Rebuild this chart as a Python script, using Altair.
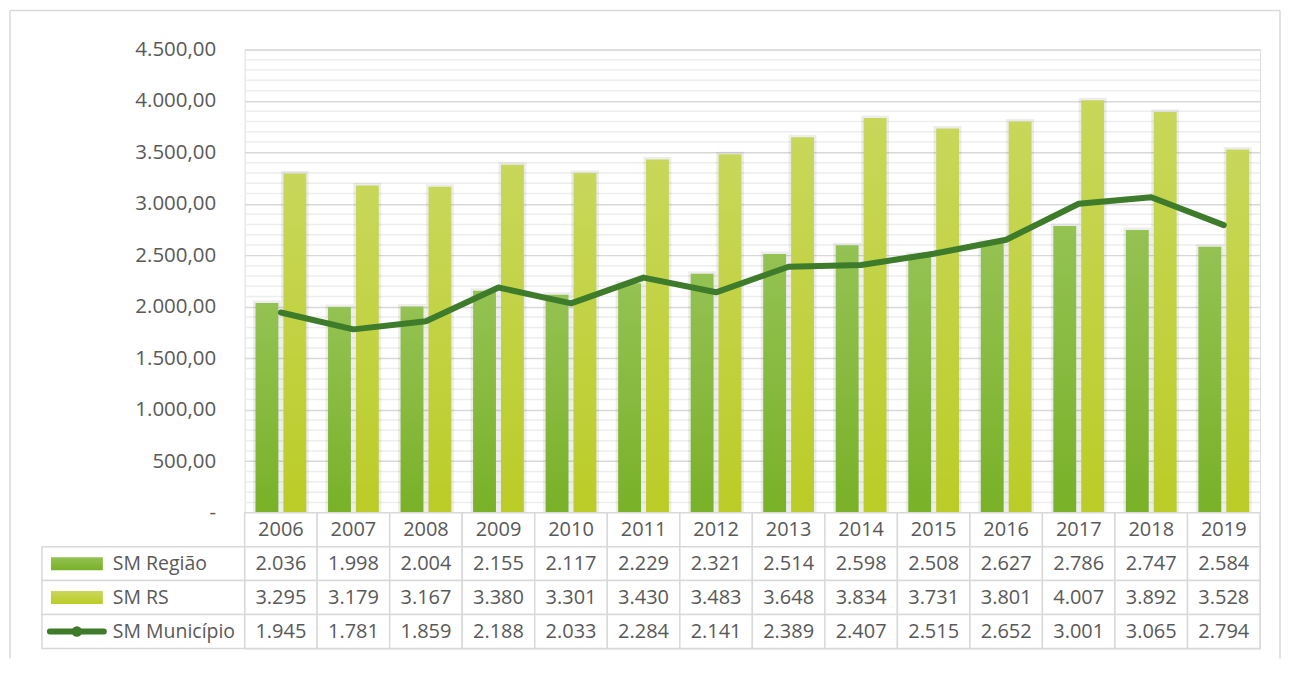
import altair as alt
import pandas as pd

years = ["2006", "2007", "2008", "2009", "2010", "2011", "2012",
         "2013", "2014", "2015", "2016", "2017", "2018", "2019"]
sm_regiao = [2036, 1998, 2004, 2155, 2117, 2229, 2321, 2514, 2598, 2508, 2627, 2786, 2747, 2584]
sm_rs = [3295, 3179, 3167, 3380, 3301, 3430, 3483, 3648, 3834, 3731, 3801, 4007, 3892, 3528]
sm_municipio = [1945, 1781, 1859, 2188, 2033, 2284, 2141, 2389, 2407, 2515, 2652, 3001, 3065, 2794]
series_names = ["SM Região", "SM RS", "SM Município"]
major_ticks = [0, 500, 1000, 1500, 2000, 2500, 3000, 3500, 4000, 4500]
minor_ticks = [v for v in range(100, 4500, 100) if v % 500 != 0]

FONT = "Open Sans"
TXT = "#595959"
GRID = "#d9d9d9"

rows = []
for name, vals in zip(series_names, [sm_regiao, sm_rs, sm_municipio]):
    for y, v in zip(years, vals):
        rows.append({"year": y, "series": name, "value": v})
df = pd.DataFrame(rows)

grad_regiao = alt.LinearGradient(
    gradient="linear", x1=0, x2=0, y1=0, y2=1,
    stops=[alt.GradientStop(color="#94c253", offset=0),
           alt.GradientStop(color="#79b128", offset=1)])
grad_rs = alt.LinearGradient(
    gradient="linear", x1=0, x2=0, y1=0, y2=1,
    stops=[alt.GradientStop(color="#c8d75a", offset=0),
           alt.GradientStop(color="#bbcc27", offset=1)])
LINE_COLOR = "#3e7b2b"

W = 1017
x_enc = alt.X("year:O", sort=years,
              scale=alt.Scale(paddingInner=0.3, paddingOuter=0.15), axis=None)
label_expr = ("datum.value == 0 ? '-\u00a0\u00a0' : "
              "replace(replace(replace(format(datum.value, ',.2f'), ',', '#'), '.', ','), '#', '.')")
y_scale = alt.Scale(domain=[0, 4500], nice=False)
y_axis = alt.Axis(values=major_ticks, labelExpr=label_expr, grid=True, gridColor=GRID,
                  gridWidth=1.5, domain=False, ticks=False, labelPadding=29, title=None,
                  labelFontSize=20.5, labelColor=TXT, labelFont=FONT)

base = alt.Chart(df)

minor = alt.Chart(pd.DataFrame({"v": minor_ticks})).mark_rule(
    color="#eeeeee", strokeWidth=1.5).encode(
    y=alt.Y("v:Q", scale=y_scale, axis=y_axis))

xoff = alt.XOffset("series:N", scale=alt.Scale(domain=["SM Região", "SM RS"], paddingInner=0.18))


def shadow(name):
    return base.transform_filter(alt.datum.series == name).mark_bar(
        fill="#000000", fillOpacity=0.0, stroke="#000000", strokeOpacity=0.07, strokeWidth=5).encode(
        x=x_enc, xOffset=xoff, y=alt.Y("value:Q", scale=y_scale))


bars_r = base.transform_filter(alt.datum.series == "SM Região").mark_bar(fill=grad_regiao).encode(
    x=x_enc, xOffset=xoff, y=alt.Y("value:Q", scale=y_scale))
bars_s = base.transform_filter(alt.datum.series == "SM RS").mark_bar(fill=grad_rs).encode(
    x=x_enc, xOffset=xoff, y=alt.Y("value:Q", scale=y_scale))

line = base.transform_filter(alt.datum.series == "SM Município").mark_line(
    color=LINE_COLOR, strokeWidth=6, strokeCap="round", strokeJoin="round").encode(
    x=x_enc, y=alt.Y("value:Q", scale=y_scale))

# outer frame of the chart area (left, top, right sides)
one = pd.DataFrame({"k": [0]})
frame_left = alt.Chart(one).mark_rule(color=GRID, strokeWidth=1.5).encode(
    x=alt.value(-235), y=alt.value(-39), y2=alt.value(610))
frame_top = alt.Chart(one).mark_rule(color=GRID, strokeWidth=1.5).encode(
    x=alt.value(-235), x2=alt.value(1037), y=alt.value(-39))
frame_right = alt.Chart(one).mark_rule(color=GRID, strokeWidth=1.5).encode(
    x=alt.value(1037), y=alt.value(-39), y2=alt.value(610))

top = alt.layer(minor, shadow("SM Região"), shadow("SM RS"), bars_r, bars_s, line,
                frame_left, frame_top, frame_right).properties(width=W, height=464)

# ---- data table ----
row_keys = ["header"] + series_names
cells = []
for y in years:
    cells.append({"year": y, "row": "header", "text": y})
for name, vals in zip(series_names, [sm_regiao, sm_rs, sm_municipio]):
    for y, v in zip(years, vals):
        cells.append({"year": y, "row": name, "text": f"{v:,}".replace(",", ".")})
cells_df = pd.DataFrame(cells)
labels_df = pd.DataFrame({"row": series_names})

tx = alt.X("year:O", sort=years, scale=alt.Scale(paddingInner=0, paddingOuter=0), axis=None)
ty = alt.Y("row:N", sort=row_keys, scale=alt.Scale(domain=row_keys, paddingInner=0, paddingOuter=0), axis=None)

cell_rect = alt.Chart(cells_df).mark_rect(fill="white", stroke=GRID, strokeWidth=1.5).encode(x=tx, y=ty)
cell_text = alt.Chart(cells_df).mark_text(font=FONT, fontSize=20, color=TXT, baseline="middle").encode(
    x=tx, y=ty, text="text:N")
label_rect = alt.Chart(labels_df).mark_rect(fill="white", stroke=GRID, strokeWidth=1.5).encode(
    x=alt.value(-203), x2=alt.value(0), y=ty)
label_text = alt.Chart(labels_df).mark_text(font=FONT, fontSize=19.5, color=TXT, align="left",
                                            baseline="middle").encode(
    x=alt.value(-132), y=ty, text="row:N")
sw_r = alt.Chart(labels_df).transform_filter(alt.datum.row == "SM Região").mark_bar(
    fill=grad_regiao, height=13).encode(x=alt.value(-194), x2=alt.value(-142), y=ty)
sw_s = alt.Chart(labels_df).transform_filter(alt.datum.row == "SM RS").mark_bar(
    fill=grad_rs, height=13).encode(x=alt.value(-194), x2=alt.value(-142), y=ty)
sw_m_line = alt.Chart(labels_df).transform_filter(alt.datum.row == "SM Município").mark_rule(
    color=LINE_COLOR, strokeWidth=6, strokeCap="round").encode(
    x=alt.value(-195), x2=alt.value(-141), y=ty)
sw_m_pt = alt.Chart(labels_df).transform_filter(alt.datum.row == "SM Município").mark_point(
    filled=True, color=LINE_COLOR, size=110, opacity=1).encode(x=alt.value(-168), y=ty)

table = alt.layer(cell_rect, label_rect, cell_text, label_text, sw_r, sw_s, sw_m_line, sw_m_pt).properties(
    width=W, height=136)

chart = alt.vconcat(top, table, spacing=0, bounds="flush").resolve_scale(
    x="independent", y="independent").properties(
    padding={"left": 0, "top": 0, "right": 0, "bottom": 0}
).configure_view(stroke=None).configure(background="white")

chart.save("out.html", embed_options={"renderer": "svg", "actions": False})
